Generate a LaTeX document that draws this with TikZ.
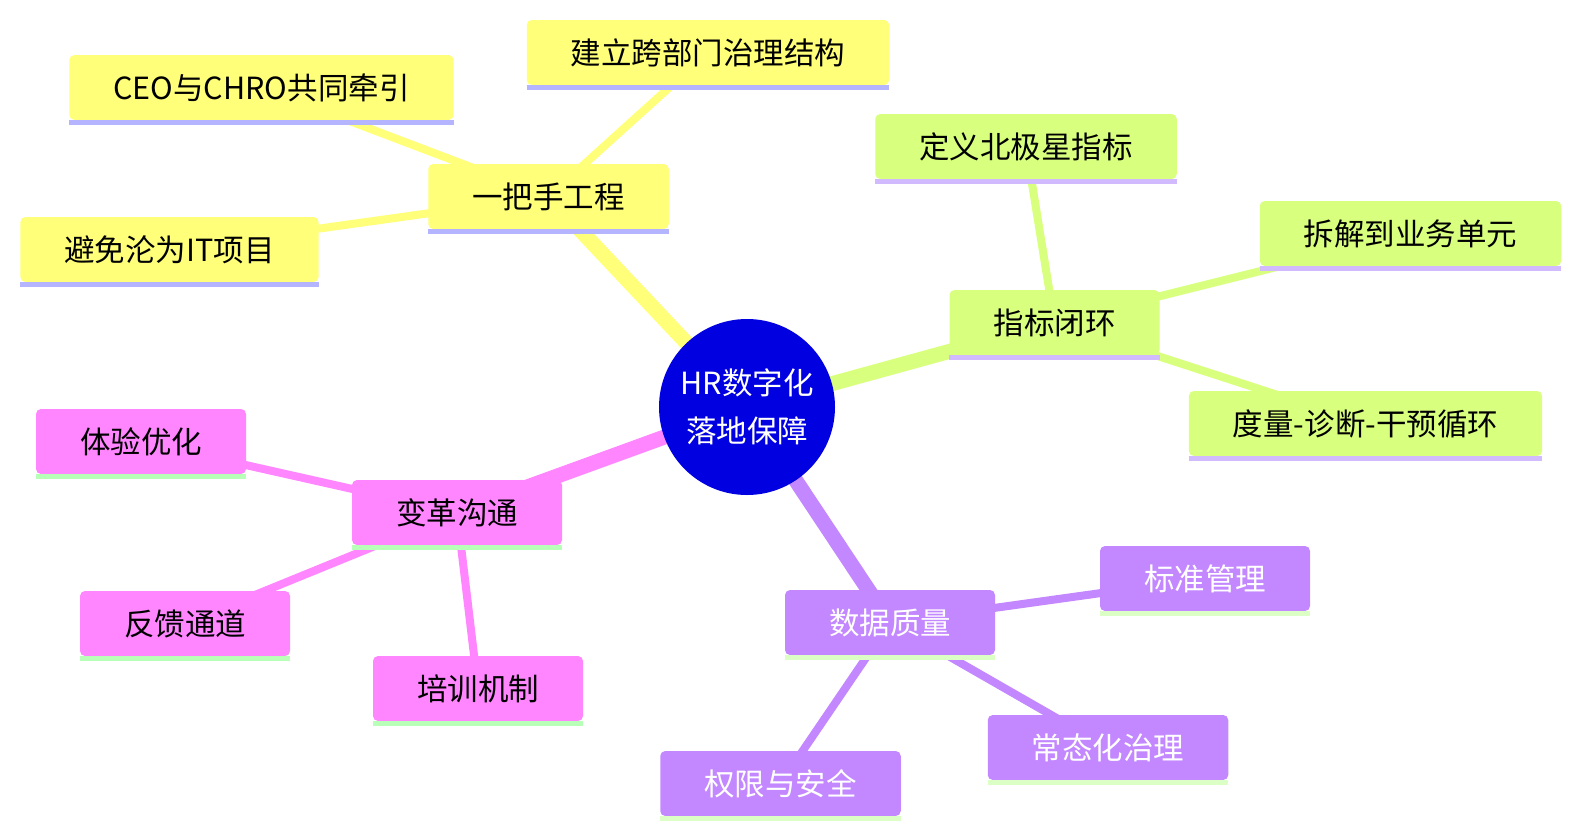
\documentclass[tikz,border=0pt]{standalone}
\usepackage{fontspec}
\setmainfont{Noto Sans CJK SC}
\definecolor{RootClr}{rgb}{0,0,0.88}
\definecolor{YelClr}{HTML}{FFFF7A}
\definecolor{YelLine}{HTML}{B4B4FF}
\definecolor{GrnClr}{HTML}{D9FF7E}
\definecolor{GrnLine}{HTML}{D2BAFF}
\definecolor{PnkClr}{HTML}{FF86FF}
\definecolor{PnkLine}{HTML}{B8FFB8}
\definecolor{PurClr}{HTML}{C387FF}
\definecolor{PurLine}{HTML}{DCFFC6}
\pgfdeclarelayer{bg}
\pgfsetlayers{bg,main}

\begin{document}
\begin{tikzpicture}[x=1pt,y=-1pt,
  box/.style={rounded corners=5pt,minimum height=65pt,inner xsep=44pt,inner ysep=0pt,
    font=\fontsize{30.5}{36}\selectfont},
  ybox/.style={box,fill=YelClr},
  gbox/.style={box,fill=GrnClr},
  pbox/.style={box,fill=PnkClr},
  vbox/.style={box,fill=PurClr,text=white},
  main edge/.style={line width=15pt},
  sub edge/.style={line width=8pt}]
\useasboundingbox (0,0) rectangle (1582,838);

% root
\node[circle,fill=RootClr,minimum size=176pt,inner sep=0pt,text=white,align=center,
  font=\fontsize{30.5}{48}\selectfont] (root) at (747,407) {HR数字化\\落地保障};

% yellow branch
\node[ybox] (lead) at (548.5,196.5) {一把手工程};
\node[ybox] (ceo) at (261.5,87.5) {CEO与CHRO共同牵引};
\node[ybox] (gov) at (708,52.5) {建立跨部门治理结构};
\node[ybox] (notit) at (169.5,249.5) {避免沦为IT项目};

% green branch
\node[gbox] (loop) at (1054.5,322.5) {指标闭环};
\node[gbox] (star) at (1026,146.5) {定义北极星指标};
\node[gbox] (split) at (1410.5,233.5) {拆解到业务单元};
\node[gbox] (cycle) at (1365.5,423.5) {度量-诊断-干预循环};

% pink branch
\node[pbox] (comm) at (457,512.5) {变革沟通};
\node[pbox] (exp) at (141,441.5) {体验优化};
\node[pbox] (fb) at (185,623.5) {反馈通道};
\node[pbox] (train) at (478,688.5) {培训机制};

% purple branch
\node[vbox] (data) at (890,622.5) {数据质量};
\node[vbox] (std) at (1205,578.5) {标准管理};
\node[vbox] (norm) at (1108,747.5) {常态化治理};
\node[vbox] (perm) at (780.5,783.5) {权限与安全};

% underlines
\foreach \n in {lead,ceo,gov,notit}
  \draw[YelLine,line width=5pt] ([yshift=-2.5pt]\n.south west) -- ([yshift=-2.5pt]\n.south east);
\foreach \n in {loop,star,split,cycle}
  \draw[GrnLine,line width=5pt] ([yshift=-2.5pt]\n.south west) -- ([yshift=-2.5pt]\n.south east);
\foreach \n in {comm,exp,fb,train}
  \draw[PnkLine,line width=5pt] ([yshift=-2.5pt]\n.south west) -- ([yshift=-2.5pt]\n.south east);
\foreach \n in {data,std,norm,perm}
  \draw[PurLine,line width=5pt] ([yshift=-2.5pt]\n.south west) -- ([yshift=-2.5pt]\n.south east);

% edges
\begin{pgfonlayer}{bg}
\draw[YelClr,main edge] (root.center) -- (lead.center);
\foreach \n in {ceo,gov,notit}
  \draw[YelClr,sub edge] (lead.center) -- (\n.center);
\draw[GrnClr,main edge] (root.center) -- (loop.center);
\foreach \n in {star,split,cycle}
  \draw[GrnClr,sub edge] (loop.center) -- (\n.center);
\draw[PnkClr,main edge] (root.center) -- (comm.center);
\foreach \n in {exp,fb,train}
  \draw[PnkClr,sub edge] (comm.center) -- (\n.center);
\draw[PurClr,main edge] (root.center) -- (data.center);
\foreach \n in {std,norm,perm}
  \draw[PurClr,sub edge] (data.center) -- (\n.center);
\end{pgfonlayer}

\end{tikzpicture}
\end{document}
